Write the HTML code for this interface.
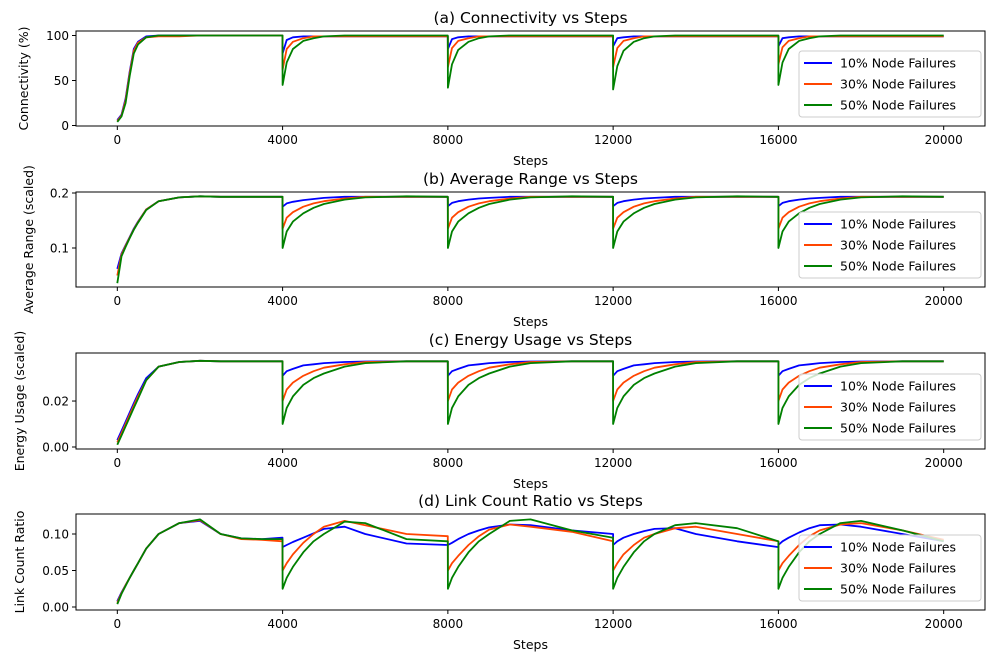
<!DOCTYPE html>
<html><head><meta charset="utf-8">
<style>
html,body{margin:0;padding:0;background:#fff;}
svg{display:block;font-family:"DejaVu Sans","Liberation Sans",sans-serif;}
</style></head>
<body>
<svg id="fig" width="1000" height="658" viewBox="0 0 1000 658" xmlns="http://www.w3.org/2000/svg"></svg>
<script>
const steps=[0,100,200,300,400,500,700,1000,1500,2000,2500,3000,3500,3999,
4000,4100,4250,4500,4750,5000,5500,6000,7000,7999,
8000,8100,8250,8500,8750,9000,9500,10000,11000,11999,
12000,12100,12250,12500,12750,13000,13500,14000,15000,15999,
16000,16100,16250,16500,16750,17000,17500,18000,19000,20000];
const seriesNames=["10% Node Failures","30% Node Failures","50% Node Failures"];
const xTicks=[0,4000,8000,12000,16000,20000];
// (a) connectivity
const conn10=[6,12,30,60,85,93,99,100,100,100,100,100,100,100,
80,95,98,99,99,99,99,99,99,99,
85,96,98,99,99,99,99,99,99,99,
88,97,98,99,99,99,99,99,99,99,
88,97,98,99,99,99,99,99,99,99];
const conn30=[5,11,28,58,83,92,98,99,99,100,100,100,100,100,
62,85,93,97,99,99,99,99,99,99,
65,86,94,97,99,99,99,99,99,99,
65,86,94,97,99,99,99,99,99,99,
68,87,94,97,99,99,99,99,99,99];
const conn50=[4,10,25,55,80,90,98,100,100,100,100,100,100,100,
45,70,85,94,97,99,100,100,100,100,
42,68,84,93,97,99,100,100,100,100,
40,66,83,93,97,99,100,100,100,100,
45,70,85,94,97,99,100,100,100,100];
// (b) average range
const rng10=[0.062,0.09,0.105,0.12,0.135,0.148,0.17,0.185,0.192,0.194,0.193,0.193,0.193,0.193,
0.175,0.181,0.184,0.187,0.189,0.191,0.193,0.193,0.193,0.193,
0.176,0.182,0.185,0.188,0.19,0.191,0.193,0.193,0.193,0.193,
0.176,0.182,0.185,0.188,0.19,0.191,0.193,0.193,0.193,0.193,
0.176,0.182,0.185,0.188,0.19,0.191,0.193,0.193,0.193,0.193];
const rng30=[0.05,0.088,0.104,0.119,0.134,0.147,0.17,0.185,0.192,0.194,0.193,0.193,0.193,0.193,
0.135,0.155,0.165,0.175,0.181,0.185,0.19,0.193,0.193,0.193,
0.135,0.155,0.165,0.175,0.181,0.185,0.19,0.193,0.193,0.193,
0.135,0.155,0.165,0.175,0.181,0.185,0.19,0.193,0.193,0.193,
0.135,0.155,0.165,0.175,0.181,0.185,0.19,0.193,0.193,0.193];
const rng50=[0.036,0.085,0.102,0.118,0.133,0.146,0.169,0.185,0.192,0.194,0.193,0.193,0.193,0.193,
0.1,0.13,0.148,0.163,0.173,0.18,0.188,0.192,0.194,0.193,
0.1,0.13,0.148,0.163,0.173,0.18,0.188,0.192,0.194,0.193,
0.1,0.13,0.148,0.163,0.173,0.18,0.188,0.192,0.194,0.193,
0.1,0.13,0.148,0.163,0.173,0.18,0.188,0.192,0.194,0.193];
// (c) energy
const en10=[0.003,0.007,0.011,0.015,0.019,0.023,0.03,0.035,0.037,0.0375,0.0373,0.0373,0.0373,0.0373,
0.031,0.033,0.034,0.0355,0.036,0.0365,0.037,0.0372,0.0373,0.0373,
0.031,0.033,0.034,0.0355,0.036,0.0365,0.037,0.0372,0.0373,0.0373,
0.031,0.033,0.034,0.0355,0.036,0.0365,0.037,0.0372,0.0373,0.0373,
0.031,0.033,0.034,0.0355,0.036,0.0365,0.037,0.0372,0.0373,0.0373];
const en30=[0.002,0.006,0.01,0.014,0.018,0.022,0.029,0.035,0.037,0.0375,0.0373,0.0373,0.0373,0.0373,
0.02,0.025,0.028,0.031,0.033,0.0345,0.036,0.037,0.0373,0.0373,
0.02,0.025,0.028,0.031,0.033,0.0345,0.036,0.037,0.0373,0.0373,
0.02,0.025,0.028,0.031,0.033,0.0345,0.036,0.037,0.0373,0.0373,
0.02,0.025,0.028,0.031,0.033,0.0345,0.036,0.037,0.0373,0.0373];
const en50=[0.001,0.005,0.009,0.013,0.017,0.021,0.029,0.035,0.037,0.0375,0.0373,0.0373,0.0373,0.0373,
0.01,0.017,0.022,0.027,0.03,0.032,0.035,0.0365,0.0373,0.0373,
0.01,0.017,0.022,0.027,0.03,0.032,0.035,0.0365,0.0373,0.0373,
0.01,0.017,0.022,0.027,0.03,0.032,0.035,0.0365,0.0373,0.0373,
0.01,0.017,0.022,0.027,0.03,0.032,0.035,0.0365,0.0373,0.0373];
// (d) link count ratio
const lk10=[0.008,0.02,0.03,0.04,0.05,0.06,0.08,0.1,0.115,0.118,0.1,0.094,0.093,0.095,
0.082,0.085,0.089,0.095,0.101,0.107,0.11,0.1,0.087,0.085,
0.085,0.088,0.093,0.1,0.105,0.109,0.113,0.112,0.105,0.1,
0.085,0.09,0.095,0.1,0.104,0.107,0.108,0.1,0.09,0.082,
0.085,0.09,0.095,0.102,0.108,0.112,0.113,0.11,0.1,0.09];
const lk30=[0.006,0.019,0.03,0.04,0.05,0.06,0.08,0.1,0.115,0.119,0.1,0.093,0.092,0.09,
0.05,0.06,0.072,0.088,0.1,0.11,0.118,0.112,0.1,0.097,
0.05,0.06,0.07,0.085,0.097,0.106,0.113,0.11,0.103,0.09,
0.05,0.06,0.072,0.085,0.095,0.1,0.108,0.11,0.1,0.09,
0.05,0.06,0.07,0.085,0.097,0.105,0.113,0.115,0.105,0.092];
const lk50=[0.004,0.018,0.029,0.04,0.05,0.06,0.08,0.1,0.115,0.12,0.1,0.094,0.093,0.093,
0.025,0.04,0.055,0.075,0.09,0.1,0.117,0.115,0.093,0.09,
0.025,0.04,0.055,0.075,0.09,0.1,0.118,0.12,0.105,0.095,
0.025,0.04,0.055,0.075,0.09,0.1,0.112,0.115,0.108,0.09,
0.025,0.04,0.055,0.075,0.09,0.1,0.115,0.118,0.105,0.09];
const yTicksA=[0,50,100], yTickLabelsA=["0","50","100"];
const yTicksB=[0.1,0.2], yTickLabelsB=["0.1","0.2"];
const yTicksC=[0,0.02], yTickLabelsC=["0.00","0.02"];
const yTicksD=[0,0.05,0.1], yTickLabelsD=["0.00","0.05","0.10"];

const colors=["#0000ff","#ff4500","#008000"];
const NS="http://www.w3.org/2000/svg";
const svg=document.getElementById("fig");
const L=76,R=985,XMIN=-1000,XMAX=21000;
function xs(v){return L+(v-XMIN)/(XMAX-XMIN)*(R-L);}
function mk(tag,attrs,parent){const e=document.createElementNS(NS,tag);for(const k in attrs)e.setAttribute(k,attrs[k]);(parent||svg).appendChild(e);return e;}

const panels=[
 {key:"connectivity",top:31,bot:126,ymin:-0.56,ymax:105,ticks:yTicksA,labels:yTickLabelsA,title:"(a) Connectivity vs Steps",ylabel:"Connectivity (%)",ylx:28,data:[conn10,conn30,conn50]},
 {key:"average-range",top:192,bot:287,ymin:0.0291,ymax:0.2018,ticks:yTicksB,labels:yTickLabelsB,title:"(b) Average Range vs Steps",ylabel:"Average Range (scaled)",ylx:33,data:[rng10,rng30,rng50]},
 {key:"energy-usage",top:353,bot:449,ymin:-0.00087,ymax:0.0409,ticks:yTicksC,labels:yTickLabelsC,title:"(c) Energy Usage vs Steps",ylabel:"Energy Usage (scaled)",ylx:24,data:[en10,en30,en50]},
 {key:"link-count",top:514,bot:610,ymin:-0.0041,ymax:0.1274,ticks:yTicksD,labels:yTickLabelsD,title:"(d) Link Count Ratio vs Steps",ylabel:"Link Count Ratio",ylx:24,data:[lk10,lk30,lk50]}
];
panels.forEach(p=>{
 const g=mk("g",{});
 
 
 const ys=v=>p.bot-(v-p.ymin)/(p.ymax-p.ymin)*(p.bot-p.top);
 p.data.forEach((arr,si)=>{
  const d=arr.map((v,i)=>(i?"L":"M")+xs(steps[i]).toFixed(1)+","+ys(v).toFixed(1)).join("");
  const path=mk("path",{d:d,fill:"none",stroke:colors[si],"stroke-width":1.8,"stroke-linejoin":"round"},g);
  
  
 });
 const fr=mk("rect",{x:L,y:p.top,width:R-L,height:p.bot-p.top,fill:"none",stroke:"#000","stroke-width":1},g);
 
 
 xTicks.forEach(t=>{
  const x=xs(t);
  mk("line",{x1:x,x2:x,y1:p.bot,y2:p.bot+4,stroke:"#000"},g);
  const tx=mk("text",{x:x,y:p.bot+18,"text-anchor":"middle","font-size":12},g);
  tx.textContent=String(t);
  
  
 });
 p.ticks.forEach((t,i)=>{
  const y=ys(t);
  mk("line",{x1:L-4,x2:L,y1:y,y2:y,stroke:"#000"},g);
  const tx=mk("text",{x:L-7,y:y+4.5,"text-anchor":"end","font-size":12},g);
  tx.textContent=p.labels[i];
  
  
 });
 const xl=mk("text",{x:(L+R)/2,y:p.bot+39,"text-anchor":"middle","font-size":12.5},g);
 xl.textContent="Steps";
 
 
 const yl=mk("text",{x:p.ylx,y:(p.top+p.bot)/2,"text-anchor":"middle","font-size":12.5,transform:`rotate(-90 ${p.ylx} ${(p.top+p.bot)/2})`},g);
 yl.textContent=p.ylabel;
 
 
 const ti=mk("text",{x:(L+R)/2,y:p.top-8,"text-anchor":"middle","font-size":15.5},g);
 ti.textContent=p.title;
 
 
 const lg=mk("g",{},g);
 
 
 const lt=p.bot-75;
 mk("rect",{x:799,y:lt,width:182,height:66,rx:3,fill:"#fff","fill-opacity":0.8,stroke:"#ccc"},lg);
 seriesNames.forEach((n,i)=>{
  const yy=lt+12+i*21;
  const ent=mk("g",{},lg);
  
  
  mk("line",{x1:804,x2:832,y1:yy,y2:yy,stroke:colors[i],"stroke-width":2},ent);
  const t=mk("text",{x:840,y:yy+4.5,"font-size":12.5},ent);
  t.textContent=n;
 });
});
</script>
</body></html>
